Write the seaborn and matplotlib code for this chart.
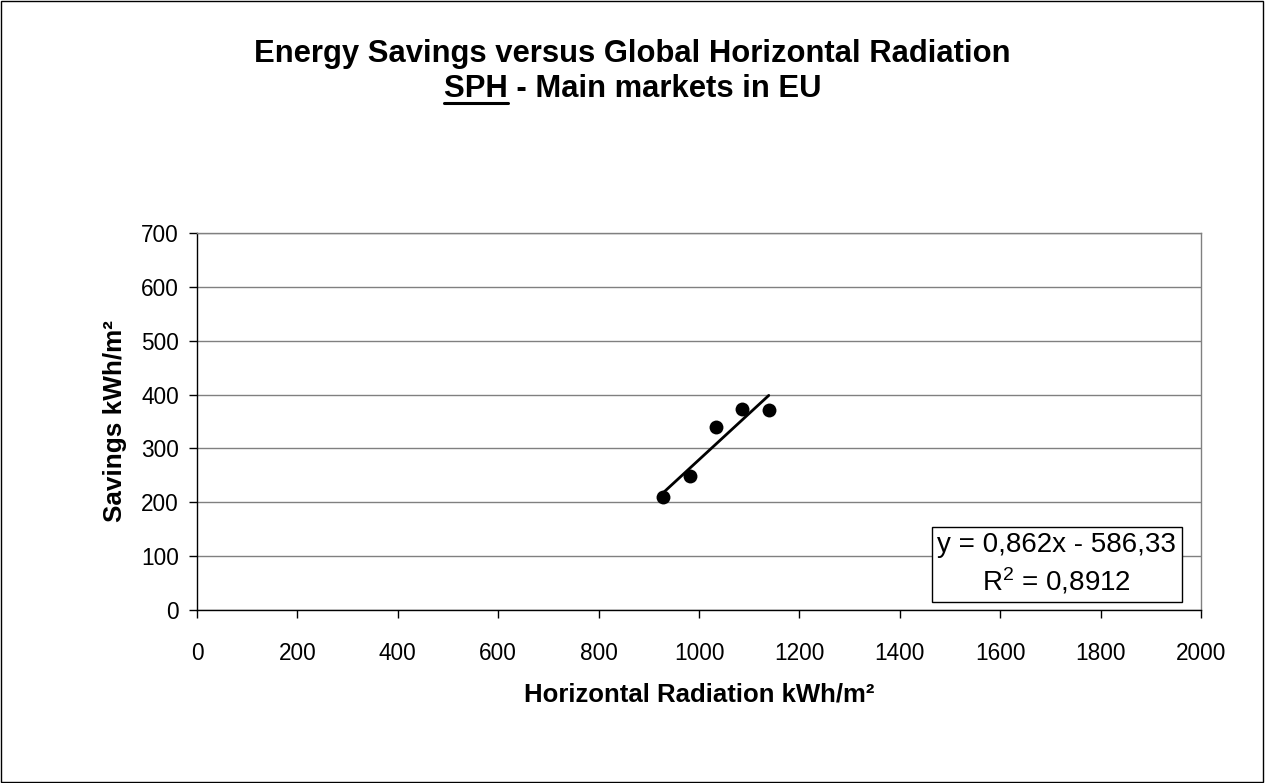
import pandas as pd
import seaborn as sns
import matplotlib.pyplot as plt
from matplotlib.patches import Rectangle
from matplotlib.lines import Line2D

# Data
radiation = [929, 983, 1034, 1086, 1139]   # kWh/m2
savings = [209, 248, 340, 374, 371]        # kWh/m2
equation_text = "y = 0,862x - 586,33"
r2_text = "R$^2$ = 0,8912"
x_ticks = list(range(0, 2001, 200))
y_ticks = list(range(0, 701, 100))

df = pd.DataFrame({'radiation': radiation, 'savings': savings})

sns.set_style('white')
plt.rcParams['font.family'] = ['Liberation Sans', 'DejaVu Sans']
plt.rcParams['text.color'] = 'black'
plt.rcParams['axes.labelcolor'] = 'black'
plt.rcParams['mathtext.fontset'] = 'custom'
plt.rcParams['mathtext.rm'] = 'Liberation Sans'
plt.rcParams['mathtext.it'] = 'Liberation Sans'

fig = plt.figure(figsize=(12.65, 7.83), dpi=100)
ax = fig.add_axes([197 / 1265, 1 - 610 / 783, 1004 / 1265, 377 / 783])

# scatter + linear trend over the data range
sns.regplot(x='radiation', y='savings', data=df, ax=ax, ci=None, truncate=True,
            color='black',
            scatter_kws={'s': 100, 'zorder': 3, 'linewidths': 0, 'alpha': 1},
            line_kws={'lw': 2.0, 'zorder': 4})

ax.set_xlim(0, 2000)
ax.set_ylim(0, 700)
ax.set_xticks(x_ticks)
ax.set_yticks(y_ticks)
ax.tick_params(axis='both', direction='out', length=6, width=1, labelsize=16.3,
               colors='black', left=True, bottom=True)
ax.tick_params(axis='x', pad=17)
ax.tick_params(axis='y', pad=7)
ax.yaxis.grid(True, color='#808080', lw=1)
ax.set_axisbelow(True)
for side in ['top', 'right']:
    ax.spines[side].set_color('#808080')
for side in ['left', 'bottom']:
    ax.spines[side].set_color('black')
for s in ax.spines.values():
    s.set_linewidth(1)

ax.set_xlabel('Horizontal Radiation kWh/m²', fontsize=18.5, fontweight='bold', labelpad=13)
ax.set_ylabel('Savings kWh/m²', fontsize=18.8, fontweight='bold', labelpad=10)

# equation box
ax.text(1713, 85, equation_text + "\n" + r2_text, fontsize=20, ha='center', va='center',
        multialignment='center', linespacing=1.3,
        bbox=dict(boxstyle='square,pad=0.2', fc='white', ec='black', lw=1), zorder=5)

# title (two lines, 'SPH' underlined)
fig.text(0.5, 1 - 54 / 783, 'Energy Savings versus Global Horizontal Radiation',
         ha='center', va='center', fontsize=22.3, fontweight='bold')
line2 = fig.text(0.5, 1 - 89 / 783, 'SPH - Main markets in EU',
                 ha='center', va='center', fontsize=22.3, fontweight='bold')
fig.canvas.draw()
renderer = fig.canvas.get_renderer()
bb = line2.get_window_extent(renderer)
probe = fig.text(0, 0, 'SPH', fontsize=22.3, fontweight='bold')
pw = probe.get_window_extent(renderer).width
probe.remove()
W, H = fig.bbox.width, fig.bbox.height
uy = (bb.y0 + 1) / H
fig.add_artist(Line2D([bb.x0 / W, (bb.x0 + pw) / W], [uy, uy],
                      transform=fig.transFigure, color='black', lw=2.2))

# outer chart border
fig.add_artist(Rectangle((0.0005, 0.0008), 0.998, 0.998, transform=fig.transFigure,
                         fill=False, ec='black', lw=1))

plt.savefig('out.png', dpi=100)
